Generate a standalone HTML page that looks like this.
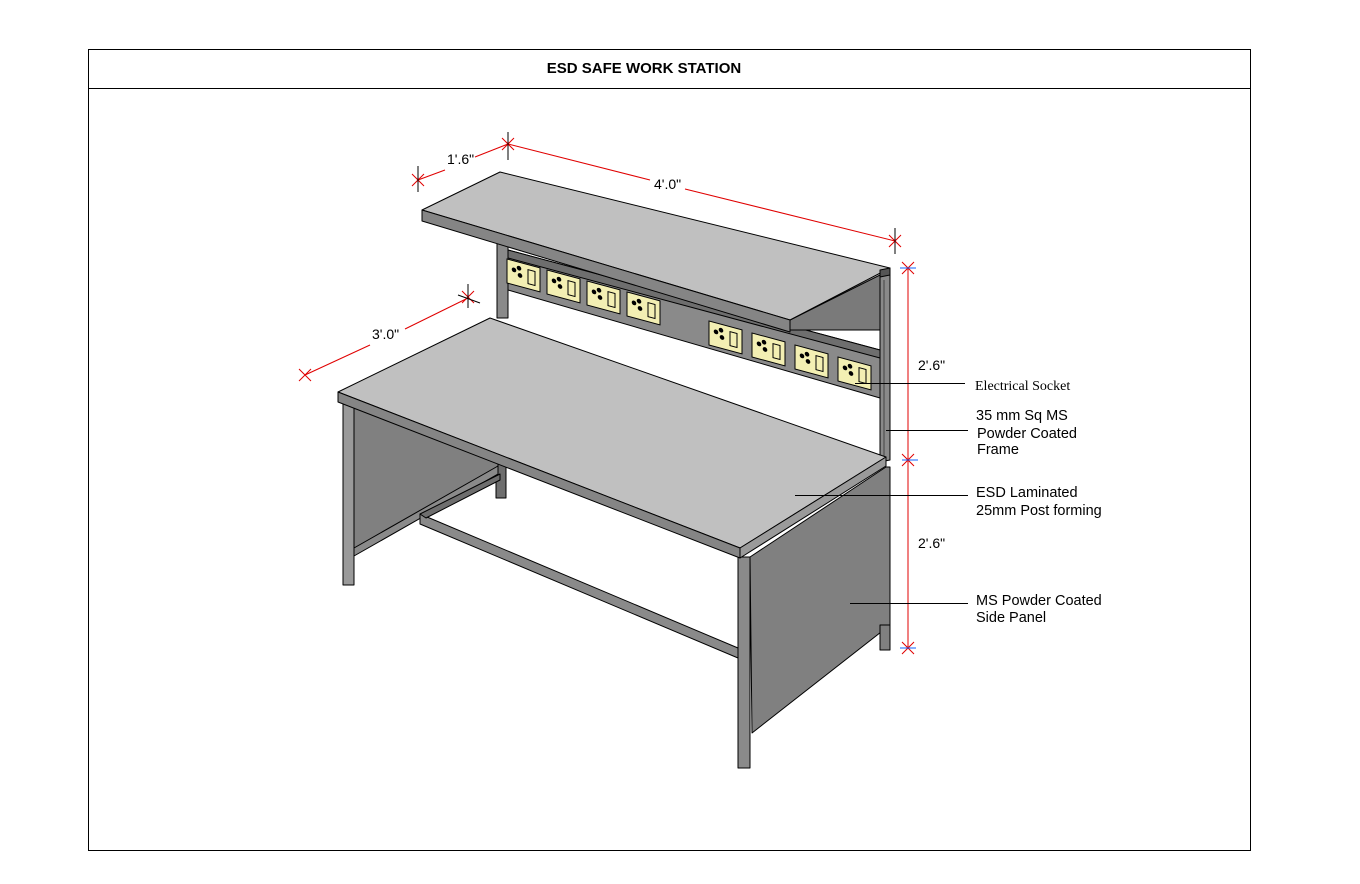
<!DOCTYPE html>
<html><head><meta charset="utf-8"><style>
html,body{margin:0;padding:0;background:#fff;width:1360px;height:884px;overflow:hidden}
svg{display:block}
text{font-family:"Liberation Sans",sans-serif}
</style></head><body>
<svg width="1360" height="884" viewBox="0 0 1360 884" xmlns="http://www.w3.org/2000/svg">
<rect x="88.5" y="49.5" width="1162" height="801" fill="#fff" stroke="#000" stroke-width="1"/>
<line x1="88" y1="88.5" x2="1251" y2="88.5" stroke="#000"/>
<text x="644" y="73" font-size="15" font-weight="bold" text-anchor="middle">ESD SAFE WORK STATION</text>

<g stroke="#000" stroke-width="1" stroke-linejoin="round">
<!-- rear posts -->
<polygon points="497,240 508,244 508,318 497,318" fill="#8a8a8a"/>
<polygon points="880,270 890,268 890,460 880,462" fill="#8a8a8a"/>
<line x1="884" y1="280" x2="884" y2="460" stroke="#444"/>
<!-- socket panel -->
<polygon points="508,250 880,350 880,398 508,290" fill="#8a8a8a"/>
<polygon points="508,250 880,350 880,358 508,258" fill="#6e6e6e"/>
<!-- back left leg / stretcher -->
<polygon points="496,458 506,458 506,498 496,498" fill="#6e6e6e"/>
<!-- left side panel -->
<polygon points="354,404 498,462 498,470 354,550" fill="#808080"/>
<polygon points="354,548 498,466 498,474 354,556" fill="#8a8a8a"/>
<!-- left front leg -->
<polygon points="343,402 354,402 354,585 343,585" fill="#9a9a9a"/>
<!-- stretcher -->
<polygon points="420,514 738,648 738,658 420,524" fill="#8a8a8a"/>
<polygon points="420,514 500,474 500,480 426,518" fill="#6e6e6e"/>
<!-- right side panel -->
<polygon points="750,557 886,467 890,467 890,625 752,733" fill="#808080"/>
<polygon points="880,625 890,625 890,650 880,650" fill="#808080"/>
<!-- front right leg -->
<polygon points="738,557 750,557 750,768 738,768" fill="#8a8a8a"/>
<!-- desk top -->
<polygon points="338,392 490,318 886,457 740,548" fill="#c0c0c0"/>
<polygon points="338,392 740,548 740,558 338,402" fill="#858585"/>
<polygon points="740,548 886,457 886,466 740,558" fill="#9a9a9a"/>
<!-- shelf -->
<polygon points="790,320 880,275 880,330 790,330" fill="#7a7a7a"/>
<polygon points="422,210 500,172 890,268 790,320" fill="#c0c0c0"/>
<polygon points="422,210 790,320 790,332 422,221" fill="#858585"/>
<polygon points="880,270 890,268 890,275 880,277" fill="#555"/>
</g>

<!-- sockets -->
<g stroke="#000" stroke-width="1" fill="#f3efb3">
<g transform="translate(507,259) skewY(15)"><rect width="33" height="24"/><rect x="21" y="5" width="7" height="14" fill="none"/><circle cx="7" cy="9" r="1.8" fill="#000"/><circle cx="12" cy="6" r="1.8" fill="#000"/><circle cx="13" cy="13" r="1.8" fill="#000"/></g>
<g transform="translate(547,270) skewY(15)"><rect width="33" height="24"/><rect x="21" y="5" width="7" height="14" fill="none"/><circle cx="7" cy="9" r="1.8" fill="#000"/><circle cx="12" cy="6" r="1.8" fill="#000"/><circle cx="13" cy="13" r="1.8" fill="#000"/></g>
<g transform="translate(587,281) skewY(15)"><rect width="33" height="24"/><rect x="21" y="5" width="7" height="14" fill="none"/><circle cx="7" cy="9" r="1.8" fill="#000"/><circle cx="12" cy="6" r="1.8" fill="#000"/><circle cx="13" cy="13" r="1.8" fill="#000"/></g>
<g transform="translate(627,292) skewY(15)"><rect width="33" height="24"/><rect x="21" y="5" width="7" height="14" fill="none"/><circle cx="7" cy="9" r="1.8" fill="#000"/><circle cx="12" cy="6" r="1.8" fill="#000"/><circle cx="13" cy="13" r="1.8" fill="#000"/></g>
<g transform="translate(709,321) skewY(15)"><rect width="33" height="24"/><rect x="21" y="5" width="7" height="14" fill="none"/><circle cx="7" cy="9" r="1.8" fill="#000"/><circle cx="12" cy="6" r="1.8" fill="#000"/><circle cx="13" cy="13" r="1.8" fill="#000"/></g>
<g transform="translate(752,333) skewY(15)"><rect width="33" height="24"/><rect x="21" y="5" width="7" height="14" fill="none"/><circle cx="7" cy="9" r="1.8" fill="#000"/><circle cx="12" cy="6" r="1.8" fill="#000"/><circle cx="13" cy="13" r="1.8" fill="#000"/></g>
<g transform="translate(795,345) skewY(15)"><rect width="33" height="24"/><rect x="21" y="5" width="7" height="14" fill="none"/><circle cx="7" cy="9" r="1.8" fill="#000"/><circle cx="12" cy="6" r="1.8" fill="#000"/><circle cx="13" cy="13" r="1.8" fill="#000"/></g>
<g transform="translate(838,357) skewY(15)"><rect width="33" height="24"/><rect x="21" y="5" width="7" height="14" fill="none"/><circle cx="7" cy="9" r="1.8" fill="#000"/><circle cx="12" cy="6" r="1.8" fill="#000"/><circle cx="13" cy="13" r="1.8" fill="#000"/></g>
</g>

<!-- dimensions -->
<g stroke="#e00000" stroke-width="1" fill="none">
<line x1="418" y1="180" x2="445" y2="170"/><line x1="475" y1="157" x2="508" y2="144"/>
<line x1="508" y1="144" x2="650" y2="180"/><line x1="685" y1="189" x2="895" y2="241"/>
<line x1="305" y1="375" x2="370" y2="345"/><line x1="405" y1="329" x2="468" y2="298"/>
<line x1="908" y1="268" x2="908" y2="648"/>
<path d="M412,186 l12,-12 M412,174 l12,12 M502,150 l12,-12 M502,138 l12,12 M889,247 l12,-12 M889,235 l12,12 M299,381 l12,-12 M299,369 l12,12 M462,303 l12,-12 M462,291 l12,12 M902,466 l12,-12 M902,454 l12,12 M902,654 l12,-12 M902,642 l12,12 M902,274 l12,-12 M902,262 l12,12"/>
</g>
<g stroke="#000" stroke-width="1">
<line x1="418" y1="166" x2="418" y2="192"/><line x1="508" y1="132" x2="508" y2="160"/>
<line x1="895" y1="228" x2="895" y2="254"/><line x1="468" y1="284" x2="468" y2="308"/><line x1="458" y1="295" x2="480" y2="303"/>
</g>
<g stroke="#1060ff" stroke-width="1">
<line x1="900" y1="268" x2="916" y2="268"/><line x1="902" y1="460" x2="918" y2="460"/><line x1="900" y1="648" x2="916" y2="648"/>
</g>
<g font-size="14" fill="#000">
<text x="447" y="164">1'.6"</text>
<text x="654" y="189">4'.0"</text>
<text x="372" y="339">3'.0"</text>
<text x="918" y="370">2'.6"</text>
<text x="918" y="548">2'.6"</text>
</g>

<!-- callouts -->
<g stroke="#000" stroke-width="1">
<line x1="855" y1="383.5" x2="965" y2="383.5"/>
<line x1="886" y1="430.5" x2="968" y2="430.5"/>
<line x1="795" y1="495.5" x2="968" y2="495.5"/>
<line x1="850" y1="603.5" x2="968" y2="603.5"/>
</g>
<text x="975" y="390" font-size="14" style="font-family:'Liberation Serif',serif">Electrical Socket</text>
<g font-size="14.5">
<text x="976" y="420">35 mm Sq MS</text>
<text x="977" y="438">Powder Coated</text>
<text x="977" y="454">Frame</text>
<text x="976" y="497">ESD Laminated</text>
<text x="976" y="515">25mm Post forming</text>
<text x="976" y="605">MS Powder Coated</text>
<text x="976" y="622">Side Panel</text>
</g>
</svg>
</body></html>
